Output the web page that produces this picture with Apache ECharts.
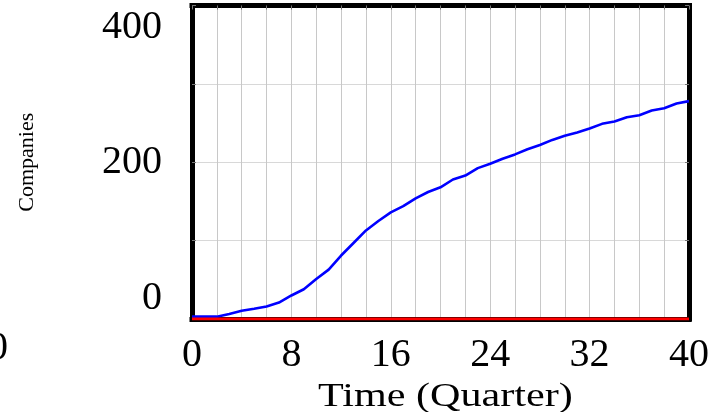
<!DOCTYPE html>
<html>
<head>
<meta charset="utf-8">
<script src="https://cdn.jsdelivr.net/npm/echarts@6/dist/echarts.min.js"></script>
<style>
html,body{margin:0;padding:0;background:#fff;}
#c{width:713px;height:412px;}
</style>
</head>
<body>
<div id="c"></div>
<script>
// Time in quarters
const times = [0,1,2,3,4,5,6,7,8,9,10,11,12,13,14,15,16,17,18,19,20,21,22,23,24,25,26,27,28,29,30,31,32,33,34,35,36,37,38,39,40];
// Companies (blue run)
const companies = [3,3,3,6.5,10.5,13,16,21,30,38,51,63,81,97,113,125,136,144,154,162,168,178,183,192.5,198,204.5,210,216.5,222,228.5,233.7,238,243,249,252,257.5,260,266,269,275,278];
// Second run (red), flat at zero
const baseline = [0,0,0,0,0,0,0,0,0,0,0,0,0,0,0,0,0,0,0,0,0,0,0,0,0,0,0,0,0,0,0,0,0,0,0,0,0,0,0,0,0];
const xTickLabels = [0,8,16,24,32,40];
const yTickLabels = [0,200,400];
const xTitle = 'Time (Quarter)';
const yTitle = 'Companies';

const serif = 'Liberation Serif';
const chart = echarts.init(document.getElementById('c'), null, {renderer:'canvas'});

const pair = (ys) => times.map((t,i)=>[t,ys[i]]);
const frame = {show:true,onZero:false,lineStyle:{color:'#000',width:5,cap:'square'}};

chart.setOption({
  animation:false,
  backgroundColor:'#fff',
  grid:{left:192,right:24,top:5.5,bottom:93,show:false,containLabel:false,outerBoundsMode:'none'},
  xAxis:[{
    type:'value',min:0,max:40,interval:2,
    axisLine:frame,
    axisTick:{show:false},
    splitLine:{show:true,lineStyle:{color:'#c8c8c8',width:1}},
    axisLabel:{
      margin:16,fontFamily:serif,fontSize:40,color:'#000',
      formatter:(v)=> xTickLabels.indexOf(v)>=0 ? String(v) : ''
    }
  },{
    type:'value',min:0,max:40,interval:2,position:'top',
    axisLine:frame,axisLabel:{show:false},splitLine:{show:false},
    axisTick:{show:true,inside:true,length:4,lineStyle:{color:'#777'}}
  }],
  yAxis:[{
    type:'value',min:0,max:400,interval:100,
    axisLine:frame,
    axisTick:{show:true,inside:true,length:4,lineStyle:{color:'#777'}},
    splitLine:{show:true,lineStyle:{color:'#d8d8d8',width:1}},
    axisLabel:{
      margin:30,fontFamily:serif,fontSize:40,color:'#000',
      formatter:(v)=>{
        if (yTickLabels.indexOf(v)<0) return '';
        if (v===400) return '{top|'+v+'}';
        if (v===0) return '{bot|'+v+'}';
        return String(v);
      },
      rich:{
        top:{fontFamily:serif,fontSize:40,color:'#000',padding:[43,0,0,0]},
        bot:{fontFamily:serif,fontSize:40,color:'#000',padding:[0,0,42,0]}
      }
    },
    name:yTitle,nameLocation:'middle',nameRotate:90,nameGap:154,
    nameTextStyle:{fontFamily:serif,fontSize:22,color:'#000'}
  },{
    type:'value',min:0,max:400,interval:100,position:'right',
    axisLine:frame,axisLabel:{show:false},splitLine:{show:false},
    axisTick:{show:true,inside:true,length:4,lineStyle:{color:'#777'}}
  }],
  graphic:[{
    type:'text',left:-12,top:328,
    style:{text:'0',font:'40px "Liberation Serif"',fill:'#000'}
  },{
    type:'text',x:318,y:397,scaleX:1.24,
    style:{text:xTitle,font:'34px "Liberation Serif"',fill:'#000',textAlign:'left',textVerticalAlign:'middle'}
  }],
  series:[{
    type:'line',data:pair(companies),showSymbol:false,symbol:'none',
    lineStyle:{color:'#0000ff',width:2.6},z:3
  },{
    type:'line',data:pair(baseline),showSymbol:false,symbol:'none',
    lineStyle:{color:'#ff0000',width:3},z:4
  }]
});
</script>
</body>
</html>
